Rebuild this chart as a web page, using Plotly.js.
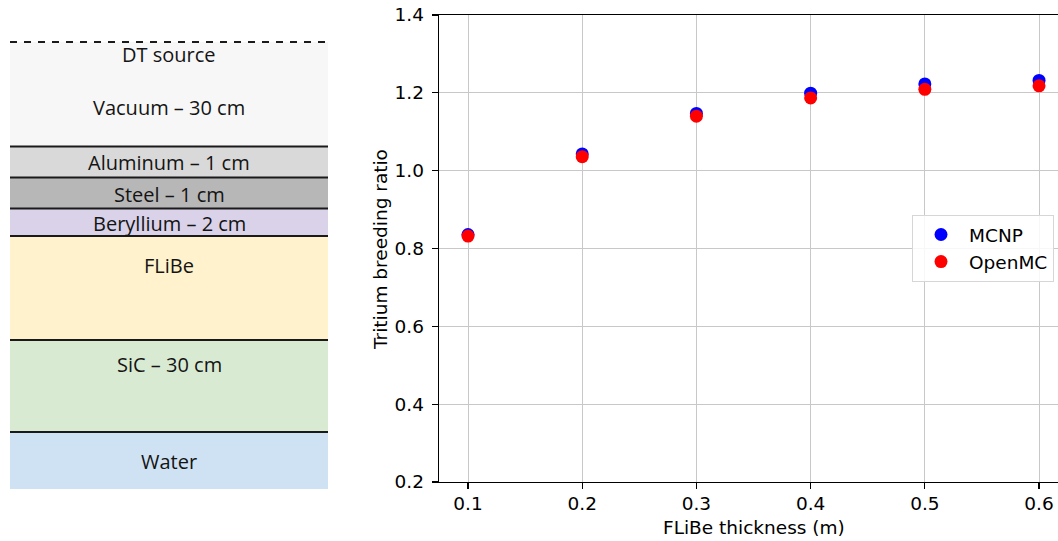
<!DOCTYPE html>
<html>
<head>
<meta charset="utf-8">
<script src="https://cdn.plot.ly/plotly-3.0.1.min.js"></script>
<style>
  html, body { margin: 0; padding: 0; background: #ffffff; }
  #chart { width: 1058px; height: 541px; }
</style>
</head>
<body>
<div id="chart"></div>
<script>
// Tritium breeding ratio vs FLiBe blanket thickness
const thickness = [0.1, 0.2, 0.3, 0.4, 0.5, 0.6];
const tbrMCNP   = [0.836, 1.043, 1.147, 1.199, 1.223, 1.232];
const tbrOpenMC = [0.832, 1.036, 1.140, 1.187, 1.209, 1.218];

const xTicks = [0.1, 0.2, 0.3, 0.4, 0.5, 0.6];
const yTicks = [0.2, 0.4, 0.6, 0.8, 1.0, 1.2, 1.4];

// Slab geometry, listed from the source outwards
const sourceLabel = 'DT source';
const layerLabels = ['Vacuum – 30 cm', 'Aluminum – 1 cm', 'Steel – 1 cm',
                     'Beryllium – 2 cm', 'FLiBe', 'SiC – 30 cm', 'Water'];

// Drawing style for the slab sketch (heights are schematic, not to scale)
const layerFills  = ['#f7f7f7', '#d9d9d9', '#b7b7b7', '#d9d2e9', '#fff2cc', '#d9ead3', '#cfe2f3'];
const layerSpans  = [104.5, 31, 31, 27.5, 104, 92, 57];
const labelDrops  = [65, 16, 16.5, 14.5, 29, 24, 29];
const sourceDrop  = 12.5;
const sketchPad   = 4;

const W = 1058, H = 541;
const px = v => v / W;
const py = v => (H - v) / H;

const shapes = [];
const annotations = [];
const sketchFont = { family: 'Open Sans', size: 20, color: '#141414' };

let edge = 0;
layerSpans.forEach((span, i) => {
  shapes.push({
    type: 'rect', xref: 'x2', yref: 'y2', x0: 0, x1: 1, y0: edge, y1: edge + span,
    fillcolor: layerFills[i], line: { width: 0 }, layer: 'below'
  });
  annotations.push({
    xref: 'x2', yref: 'y2', x: 0.5, y: edge + labelDrops[i], text: layerLabels[i],
    showarrow: false, xanchor: 'center', yanchor: 'middle', font: sketchFont
  });
  if (i > 0) {
    shapes.push({
      type: 'line', xref: 'x2', yref: 'y2', x0: 0, x1: 1, y0: edge, y1: edge,
      line: { color: '#1a1a1a', width: 2 }
    });
  }
  edge += span;
});
const totalSpan = edge;

// dashed source plane
shapes.push({
  type: 'line', xref: 'x2', yref: 'y2', x0: 0, x1: 1, y0: 0, y1: 0,
  line: { color: '#1a1a1a', width: 2.2, dash: '7px,7px' }
});
annotations.push({
  xref: 'x2', yref: 'y2', x: 0.5, y: sourceDrop, text: sourceLabel,
  showarrow: false, xanchor: 'center', yanchor: 'middle', font: sketchFont
});

// axis titles
const tickFont = { family: 'DejaVu Sans', size: 18.5, color: '#000000' };
annotations.push({
  xref: 'x', yref: 'paper', x: 0.35, y: py(527), text: 'FLiBe thickness (m)',
  showarrow: false, xanchor: 'center', yanchor: 'middle', font: tickFont
});
annotations.push({
  xref: 'paper', yref: 'paper', x: px(381), y: py(250), text: 'Tritium breeding ratio',
  textangle: -90, showarrow: false, xanchor: 'center', yanchor: 'middle', font: tickFont
});

const traces = [
  {
    x: thickness, y: tbrMCNP, name: 'MCNP', type: 'scatter', mode: 'markers',
    marker: { color: '#0000ff', size: 13 }, xaxis: 'x', yaxis: 'y'
  },
  {
    x: thickness, y: tbrOpenMC, name: 'OpenMC', type: 'scatter', mode: 'markers',
    marker: { color: '#ff0000', size: 13 }, xaxis: 'x', yaxis: 'y'
  }
];

const layout = {
  width: W, height: H,
  margin: { l: 0, r: 0, t: 0, b: 0 },
  paper_bgcolor: '#ffffff',
  plot_bgcolor: '#ffffff',
  showlegend: true,
  legend: {
    x: px(912), y: py(215), xanchor: 'left', yanchor: 'top',
    bgcolor: 'rgba(255,255,255,0.85)', bordercolor: '#d6d6d6', borderwidth: 1,
    font: tickFont, itemwidth: 46, traceorder: 'normal'
  },
  xaxis: {
    domain: [px(439), 1],
    range: [0.0746, 0.6166],
    tickvals: xTicks, tickformat: '.1f',
    ticks: 'outside', ticklen: 6, tickcolor: '#000000', tickwidth: 1.2,
    ticklabelstandoff: -2,
    showline: true, linecolor: '#000000', linewidth: 1.3, mirror: true,
    showgrid: true, gridcolor: '#c8c8c8', gridwidth: 1,
    zeroline: false, tickfont: tickFont, fixedrange: true
  },
  yaxis: {
    domain: [py(482), py(15)],
    range: [0.2, 1.4],
    tickvals: yTicks, tickformat: '.1f',
    ticks: 'outside', ticklen: 6, tickcolor: '#000000', tickwidth: 1.2,
    ticklabelstandoff: 4,
    showline: true, linecolor: '#000000', linewidth: 1.3, mirror: false,
    showgrid: true, gridcolor: '#c8c8c8', gridwidth: 1,
    zeroline: false, tickfont: tickFont, fixedrange: true
  },
  xaxis2: {
    domain: [px(10), px(328)], range: [0, 1], anchor: 'y2',
    visible: false, fixedrange: true
  },
  yaxis2: {
    domain: [py(489), py(42 - sketchPad)], range: [totalSpan, -sketchPad], anchor: 'x2',
    visible: false, fixedrange: true
  },
  shapes: shapes,
  annotations: annotations
};

Plotly.newPlot('chart', traces, layout, { displayModeBar: false, staticPlot: true });
</script>
</body>
</html>
